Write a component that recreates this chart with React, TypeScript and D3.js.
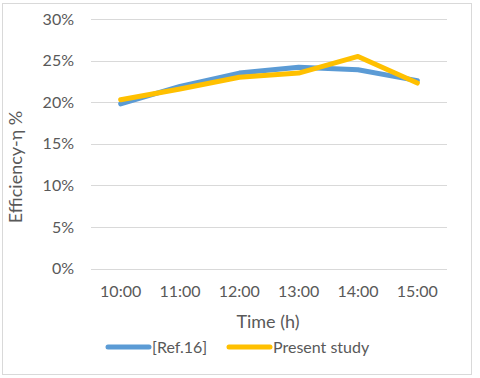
import React, { useEffect, useRef } from 'react';
import * as d3 from 'd3';

const times = ['10:00', '11:00', '12:00', '13:00', '14:00', '15:00'];
const refValues = [0.198, 0.219, 0.235, 0.242, 0.239, 0.226];
const presentValues = [0.203, 0.216, 0.23, 0.235, 0.255, 0.223];
const yTicks = [0, 0.05, 0.1, 0.15, 0.2, 0.25, 0.3];

const seriesList = [
  { name: '[Ref.16]', values: refValues, color: '#5B9BD5' },
  { name: 'Present study', values: presentValues, color: '#FFC000' },
];

const App = () => {
  const svgRef = useRef<SVGSVGElement>(null);

  useEffect(() => {
    const svg = d3.select(svgRef.current);
    svg.selectAll('*').remove();

    const font = 'Lato, "Open Sans", sans-serif';
    const textColor = '#595959';
    const left = 91, right = 447, top = 19, bottom = 268.7;

    // outer border
    svg.append('rect')
      .attr('x', 2.5).attr('y', 3.5)
      .attr('width', 469).attr('height', 371)
      .attr('fill', '#fff')
      .attr('stroke', '#d9d9d9');

    const x = d3.scalePoint().domain(times).range([left, right]).padding(0.5);
    const y = d3.scaleLinear().domain([0, 0.3]).range([bottom, top]);

    // gridlines + y labels
    const yAxis = svg.append('g');
    yTicks.forEach(t => {
      yAxis.append('line')
        .attr('x1', left).attr('x2', right)
        .attr('y1', Math.round(y(t)) + 0.5).attr('y2', Math.round(y(t)) + 0.5)
        .attr('stroke', '#d9d9d9').attr('stroke-width', 1);
      yAxis.append('text')
        .attr('x', 74).attr('y', y(t) + 5.5)
        .attr('text-anchor', 'end')
        .attr('font-family', font).attr('font-size', 16)
        .attr('fill', textColor)
        .text(d3.format('.0%')(t));
    });

    // x labels
    svg.append('g').selectAll('text')
      .data(times)
      .enter()
      .append('text')
      .attr('x', d => x(d)!)
      .attr('y', 297)
      .attr('text-anchor', 'middle')
      .attr('font-family', font).attr('font-size', 16)
      .attr('fill', textColor)
      .text(d => d);

    // axis titles
    svg.append('text')
      .attr('x', 268).attr('y', 328)
      .attr('text-anchor', 'middle')
      .attr('font-family', font).attr('font-size', 18)
      .attr('fill', textColor)
      .text('Time (h)');

    svg.append('text')
      .attr('transform', 'translate(22,167) rotate(-90)')
      .attr('text-anchor', 'middle')
      .attr('font-family', font).attr('font-size', 18)
      .attr('fill', textColor)
      .text('Efficiency-η %');

    // lines
    const line = d3.line<number>()
      .x((_, i) => x(times[i])!)
      .y(d => y(d));

    seriesList.forEach(s => {
      svg.append('path')
        .datum(s.values)
        .attr('d', line)
        .attr('fill', 'none')
        .attr('stroke', s.color)
        .attr('stroke-width', 5)
        .attr('stroke-linejoin', 'round')
        .attr('stroke-linecap', 'round');
    });

    // legend
    const legendX = [108, 229];
    seriesList.forEach((s, i) => {
      const g = svg.append('g').attr('transform', `translate(${legendX[i]},347)`);
      g.append('line')
        .attr('x1', 0).attr('x2', 41)
        .attr('stroke', s.color)
        .attr('stroke-width', 5)
        .attr('stroke-linecap', 'round');
      g.append('text')
        .attr('x', 44).attr('y', 5.5)
        .attr('font-family', font).attr('font-size', 16)
        .attr('fill', textColor)
        .text(s.name);
    });
  }, []);

  return (
    <div style={{ position: 'fixed', top: 0, left: 0 }}>
      <svg ref={svgRef} width={480} height={378} style={{ display: 'block' }}></svg>
    </div>
  );
};

export default App;
